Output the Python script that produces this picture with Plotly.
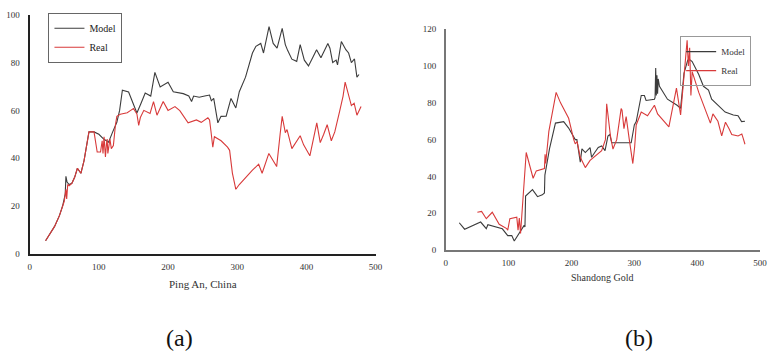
import plotly.graph_objects as go

# ---------------- data: (a) Ping An, China ----------------
pa_model_x = [23, 30, 36, 43, 47.6, 51.4, 52.4, 54, 57, 61, 65, 69, 74, 78.6, 82, 85.7, 93, 100, 107, 114,
              120, 126, 130, 134, 143, 150, 155, 161, 167, 175, 181, 188.6, 200, 207.6, 215, 222, 230, 234,
              237, 245, 253, 260, 262.6, 266, 272, 276.6, 284, 291, 298, 303, 312, 317, 322, 327, 334, 338,
              346, 352, 357.6, 365, 369.5, 373, 379, 386, 391, 397, 403, 409, 414.7, 421, 426, 431, 434, 438,
              443, 445, 450.5, 457, 461, 465, 469.5, 473, 476]
pa_model_y = [5.5, 9, 11.5, 16, 20, 25, 32.4, 30, 29, 29.5, 32, 35.8, 33.7, 39, 45, 51, 51, 50, 48, 46.7,
              51, 55, 60, 68.4, 67.7, 63, 58.9, 63, 67.3, 66, 75.9, 69.8, 71.8, 67.8, 67.5, 67, 66, 63.7,
              66, 65.5, 66, 66.4, 64, 65, 54.8, 57.5, 57.6, 65, 61, 67.8, 73.9, 78.6, 84, 86.8, 88, 84,
              95, 88, 86, 94.3, 87.5, 85, 81.4, 80.5, 87.5, 81, 78.6, 82, 85.4, 82, 85, 88, 86, 80,
              81, 79, 88.8, 85.4, 84, 80, 81.5, 73.9, 75]

pa_real_x = [23, 30, 36, 43, 47.6, 50, 51.4, 52.4, 53.5, 55, 57, 61, 65, 69, 74, 78.6, 85.7, 93, 97.6, 102.4,
             104.8, 106, 107.5, 109.5, 111, 112, 113, 114, 116, 118, 121, 124, 126, 131, 141, 146, 150, 155,
             157.6, 160, 165, 174, 179, 184, 193, 200, 210, 217, 229, 241, 248, 257.6, 260, 262, 264.7, 267,
             276.7, 286, 289, 293, 298, 303, 312, 322, 331, 336, 345.7, 350, 357, 362, 365, 369.5, 372, 379,
             386, 391, 396, 405, 415, 420, 425, 430, 436, 441, 448, 453, 456, 460, 465, 469, 473, 479]
pa_real_y = [5.5, 9, 11.5, 16, 20, 22, 25, 27, 23, 29, 28.5, 29.5, 32, 35.8, 33.7, 39, 51, 51, 42.6, 42.6,
             47.3, 42, 49, 40.5, 46, 48, 42, 43.5, 48, 44, 45.3, 54, 57.5, 58.4, 59, 60, 60.8, 58.5,
             53.7, 57, 60, 58.7, 63.7, 58, 63.7, 60, 61.6, 59.9, 54.8, 56, 55, 56.9, 56, 51.4, 44.6, 49,
             47.3, 44.6, 43.3, 33.8, 27, 29, 32, 35, 37.5, 33.7, 42, 40, 36.5, 50, 57.5, 50.7, 52, 44,
             46.9, 49.4, 45.6, 41, 54.8, 46.5, 50, 54, 47.3, 51, 59.6, 66, 71.8, 67.5, 62, 63, 58, 61.6]

# ---------------- data: (b) Shandong Gold ----------------
sd_model_x = [21.5, 30, 55.5, 64.5, 67, 80, 90, 98.6, 105, 109, 116, 124.7, 126, 127, 138, 146, 153.6, 157,
              157.7, 161, 165, 174.5, 187.6, 195.5, 206, 208.6, 214, 216.6, 222, 229.6, 232, 237, 242.6, 248,
              253.4, 258, 261, 264, 277, 295, 300, 303, 311, 316, 318.7, 332, 333, 334, 335, 336, 337, 338,
              340, 352.7, 368, 373.6, 379, 385, 389, 392, 402.5, 410, 418, 423, 444.5, 457.5, 465, 470.6, 476]
sd_model_y = [14.8, 11.3, 15.2, 11.6, 13.7, 12.5, 11.5, 7.8, 7.8, 4.9, 9, 13.4, 12.5, 29.3, 32.8, 29, 30, 31,
              40.7, 47, 55, 69, 69.8, 66.3, 60, 60, 47.7, 55, 53, 55.7, 50.4, 53, 55.7, 56.6,
              54, 61.9, 62.8, 58.3, 58.3, 58.3, 68, 69.8, 84, 84, 81.3, 82, 83, 99, 84, 95, 85, 93,
              89, 82, 78.7, 77, 96, 103.3, 103.3, 102.5, 95.4, 89, 87, 82, 75, 73.4, 73, 69.8, 70]

sd_real_x = [50.3, 57, 64.5, 74, 85, 97, 98.6, 102, 113, 115, 117, 119, 128, 139, 144, 157, 158, 159, 164,
             175.6, 182.6, 195.5, 203.6, 206, 209, 214, 222, 229.6, 248, 254, 256, 262, 266, 272, 279, 280.4,
             283.5, 287, 292, 297.6, 300.5, 303, 311, 321, 332, 337, 355, 367, 373.6, 378, 384, 386, 388,
             390, 392, 402.5, 410, 421, 425, 433, 439, 445, 450.5, 455, 465, 471, 473, 476]
sd_real_y = [20.5, 21, 17, 20.5, 14, 11.6, 10.8, 17, 17.8, 10.8, 17.3, 9, 53, 39, 43, 44.3, 52, 47, 64.5,
             85.7, 80, 71.6, 60, 57.7, 59, 50.4, 44.8, 48.7, 54, 60, 79.5, 62, 54.9, 60, 76.9, 76,
             66, 72.5, 60, 47, 56, 68, 75, 73, 78.7, 74, 67, 88, 73.4, 90, 114, 100, 110,
             84, 97, 85.7, 78.7, 69, 74, 70, 62, 69.5, 66, 62.8, 62, 63, 61, 57.5]

x_ticks = [0, 100, 200, 300, 400, 500]
pa_y_ticks = [0, 20, 40, 60, 80, 100]
sd_y_ticks = [0, 20, 40, 60, 80, 100, 120]

MODEL_C = "#3c3c3c"
REAL_C = "#d83a3a"
FONT = "Liberation Serif"

fig = go.Figure()
fig.add_trace(go.Scatter(x=pa_model_x, y=pa_model_y, mode="lines", name="Model",
                         line=dict(color=MODEL_C, width=1.1), xaxis="x", yaxis="y", legend="legend"))
fig.add_trace(go.Scatter(x=pa_real_x, y=pa_real_y, mode="lines", name="Real",
                         line=dict(color=REAL_C, width=1.1), xaxis="x", yaxis="y", legend="legend"))
fig.add_trace(go.Scatter(x=sd_model_x, y=sd_model_y, mode="lines", name="Model",
                         line=dict(color=MODEL_C, width=1.1), xaxis="x2", yaxis="y2", legend="legend2"))
fig.add_trace(go.Scatter(x=sd_real_x, y=sd_real_y, mode="lines", name="Real",
                         line=dict(color=REAL_C, width=1.1), xaxis="x2", yaxis="y2", legend="legend2"))

W, H = 771, 359
tickfont = dict(family=FONT, size=9, color="#333")


def ann(text, x, y, size, color="#333"):
    return dict(text=text, x=x / W, y=1 - y / H, xref="paper", yref="paper", xanchor="center",
                yanchor="middle", showarrow=False, font=dict(family=FONT, size=size, color=color))


fig.update_layout(
    width=W, height=H,
    margin=dict(l=0, r=0, t=0, b=0),
    paper_bgcolor="white", plot_bgcolor="white",
    font=dict(family=FONT, color="#333"),
    xaxis=dict(domain=[28 / W, 378 / W], range=[0, 500], tickvals=x_ticks, showgrid=False, zeroline=False,
               showline=True, linecolor="#222", linewidth=2, ticks="", tickfont=tickfont,
               ticklabelstandoff=3, anchor="y"),
    yaxis=dict(domain=[1 - 256 / H, 1 - 10 / H], range=[0, 100], tickvals=pa_y_ticks, showgrid=False,
               zeroline=False, showline=True, linecolor="#222", linewidth=2, ticks="", tickfont=tickfont,
               ticklabelstandoff=6, anchor="x"),
    xaxis2=dict(domain=[449 / W, 767 / W], range=[0, 500], tickvals=x_ticks, showgrid=False, zeroline=False,
                showline=True, linecolor="#777", linewidth=1.5, ticks="", tickfont=tickfont,
                ticklabelstandoff=3, anchor="y2"),
    yaxis2=dict(domain=[1 - 252 / H, 1 - 25 / H], range=[0, 120], tickvals=sd_y_ticks, showgrid=False,
                zeroline=False, showline=True, linecolor="#777", linewidth=1.5, ticks="", tickfont=tickfont,
                ticklabelstandoff=6, anchor="x2"),
    legend=dict(x=47 / W, y=1 - 8 / H, xanchor="left", yanchor="top", bgcolor="white",
                bordercolor="#666", borderwidth=1, font=dict(family=FONT, size=10, color="#222"),
                itemwidth=30, tracegroupgap=0),
    legend2=dict(x=758 / W, y=1 - 32 / H, xanchor="right", yanchor="top", bgcolor="rgba(255,255,255,0)",
                 bordercolor="#999", borderwidth=1, font=dict(family=FONT, size=9, color="#333"),
                 itemwidth=30, tracegroupgap=0),
    annotations=[
        ann("Ping An, China", 203, 287, 11),
        ann("Shandong Gold", 608, 280, 10),
        ann("(a)", 180, 343, 24, "#111"),
        ann("(b)", 645, 343, 24, "#111"),
    ],
)

fig.write_html("out.html", post_script="document.body.style.margin='0';",
               config={"displayModeBar": False})
